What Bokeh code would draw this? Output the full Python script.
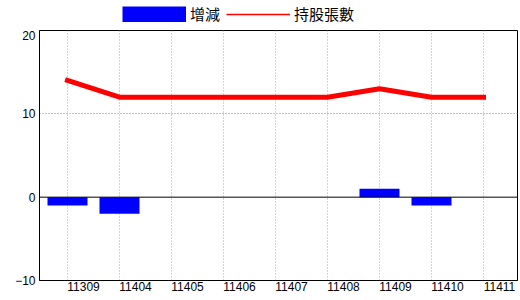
from bokeh.plotting import figure
from bokeh.layouts import column
from bokeh.models import (ColumnDataSource, FixedTicker, CustomJSTickFormatter,
                          Legend, LegendItem, Span, Range1d)
from bokeh.embed import file_html
from bokeh.resources import INLINE

# ---- data ----
months = ["11309", "11404", "11405", "11406", "11407", "11408", "11409", "11410", "11411"]
change = [-1, -2, 0, 0, 0, 0, 1, -1, 0]
holding = [14, 12, 12, 12, 12, 12, 13, 12, 12]
y_ticks = [-10, 0, 10, 20]
series_names = ["增減", "持股張數"]

xs = list(range(len(months)))
src = ColumnDataSource(dict(x=xs, change=change, holding=holding, month=months))

LABEL_OFFSET = 16 / 52  # tick labels sit right of the data positions

p = figure(width=520, height=270, output_backend="svg", toolbar_location=None,
           x_range=Range1d(-28 / 52, 450 / 52), y_range=Range1d(-10, 20),
           min_border_left=39, min_border_right=3, min_border_top=0, min_border_bottom=20)
p.title = None
p.background_fill_color = "white"
p.border_fill_color = "white"
p.outline_line_color = "black"
p.outline_line_width = 1

bars = p.vbar(x="x", top="change", bottom=0, width=40 / 52, source=src,
              fill_color="#0000ff", line_color=None)
zero = Span(location=0, dimension="width", line_color="black", line_width=1)
p.add_layout(zero)
line = p.line(x="x", y="holding", source=src, line_color="#ff0000", line_width=5,
              line_cap="square")

# grids
p.xgrid.ticker = FixedTicker(ticks=xs)
p.xgrid.grid_line_color = "#8fb0d0"
p.xgrid.grid_line_dash = "1 2"
p.xgrid.grid_line_width = 1
p.ygrid.ticker = FixedTicker(ticks=[10])
p.ygrid.grid_line_color = "#888888"
p.ygrid.grid_line_dash = "1 2"

# axes
p.xaxis.ticker = FixedTicker(ticks=[i + LABEL_OFFSET for i in xs])
p.xaxis.formatter = CustomJSTickFormatter(args=dict(labels=months, off=LABEL_OFFSET),
                                          code="return labels[Math.round(tick - off)] || '';")
p.yaxis.ticker = FixedTicker(ticks=y_ticks)
for ax in (p.xaxis[0], p.yaxis[0]):
    ax.axis_line_color = "black"
    ax.major_tick_line_color = None
    ax.minor_tick_line_color = None
    ax.major_tick_out = 0
    ax.major_tick_in = 0
    ax.major_label_text_font = "Liberation Sans"
    ax.major_label_text_font_size = "12px"
    ax.major_label_text_color = "black"
p.xaxis.major_label_standoff = 1
p.yaxis.major_label_standoff = 4

# ---- legend strip above the chart ----
# legend keys reuse the chart's data but sit outside this strip's visible range
head = figure(width=520, height=30, output_backend="svg", toolbar_location=None,
              x_range=Range1d(-100, -99), y_range=Range1d(-100, -99),
              min_border=0, x_axis_type=None, y_axis_type=None)
head.title = None
head.outline_line_color = None
head.grid.visible = False
bar_key = head.line(x="x", y="change", source=src, line_color="#0000ff", line_width=16)
line_key = head.line(x="x", y="holding", source=src, line_color="#ff0000", line_width=1.5)
legend = Legend(items=[LegendItem(label=series_names[0], renderers=[bar_key]),
                       LegendItem(label=series_names[1], renderers=[line_key])],
                location=(83, 6), orientation="horizontal",
                glyph_width=64, glyph_height=16, label_standoff=4, spacing=6,
                padding=0, margin=0, border_line_color=None, background_fill_alpha=0,
                label_text_font="Noto Sans CJK TC", label_text_font_size="15px",
                label_text_color="black", label_height=16)
head.add_layout(legend, "center")

layout = column(head, p, spacing=0)
open("out.html", "w").write(file_html(layout, INLINE))
